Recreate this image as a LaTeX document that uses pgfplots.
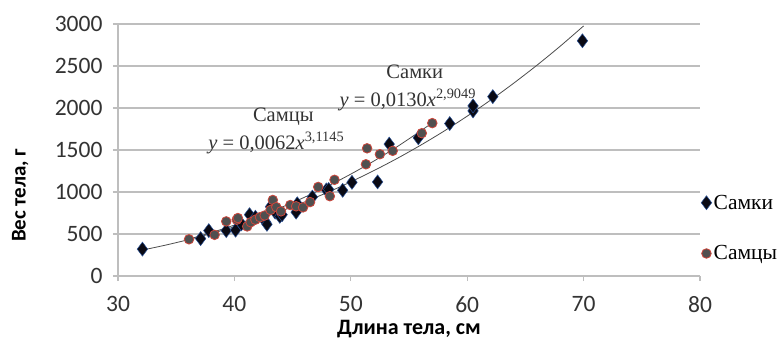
\documentclass[border=0pt]{standalone}
\usepackage{fontspec}
\setmainfont{Liberation Serif}
\newfontfamily\calfont{Carlito}
\usepackage{pgfplots}
\pgfplotsset{compat=1.18}

\definecolor{gridgray}{RGB}{190,190,190}
\definecolor{femfill}{RGB}{10,10,20}
\definecolor{femedge}{RGB}{40,80,150}
\definecolor{malefill}{RGB}{80,80,80}
\definecolor{maleedge}{RGB}{205,70,60}

\begin{document}
\begin{tikzpicture}
\begin{axis}[
 scale only axis, width=582pt, height=252pt,
 xmin=30, xmax=80, ymin=0, ymax=3000,
 xtick={30,40,...,80}, ytick={0,500,...,3000},
 axis lines=left, axis line style={-, gridgray, line width=1.3pt},
 ymajorgrids, grid style={gridgray, line width=1.3pt},
 tick align=outside, major tick length=5pt, tick style={gridgray, line width=1.2pt},
 /pgf/number format/assume math mode=true,
 /pgf/number format/1000 sep={},
 ticklabel style={font=\calfont\fontsize{23.5}{23.5}\selectfont, text=black!80},
 xticklabel style={yshift=-12pt},
 yticklabel style={xshift=-7pt},
 xlabel={Длина тела, см}, ylabel={Вес тела, г},
 xlabel style={font=\calfont\bfseries\fontsize{22}{22}\selectfont,
   at={(rel axis cs:0.5,-0.212)}, anchor=center},
 ylabel style={font=\calfont\bfseries\fontsize{21}{21}\selectfont,
   at={(rel axis cs:-0.168,0.32)}, anchor=center},
 legend style={draw=none, fill=none, at={(1.0,0.19)}, anchor=west,
   font=\fontsize{21.5}{21.5}\selectfont, row sep=31pt, inner xsep=1pt},
 legend cell align=left,
]
\addplot[only marks, mark=diamond*, mark size=7pt, mark options={fill=femfill, draw=femedge, line width=0.5pt}]
coordinates {
(32.1,320) (37.1,445) (37.8,540) (39.3,540) (40.1,545) (40.6,620) (41.3,730)
(41.8,700) (42.7,640) (42.8,615) (43.1,825) (43.5,760) (43.9,710) (44.1,730)
(45.3,760) (45.4,860) (46.7,940) (47.9,1025) (48.1,1030) (49.3,1020) (50.1,1115)
(52.3,1120) (53.3,1570) (55.8,1645) (58.5,1815) (60.5,1965) (60.5,2025)
(62.2,2135) (69.9,2800)
};
\addlegendentry{Самки}
\addplot[only marks, mark=*, mark size=4.8pt, mark options={fill=malefill, draw=maleedge, line width=0.8pt}]
coordinates {
(36.1,437) (38.3,490) (39.3,650) (40.2,670) (40.3,690) (41.1,590) (41.4,640)
(41.8,670) (42.2,700) (42.6,720) (43.1,786) (43.3,905) (43.6,820) (44.0,770)
(44.8,845) (45.3,830) (45.9,817) (46.5,880) (47.2,1060) (48.2,950) (48.6,1145)
(51.3,1330) (51.4,1520) (52.5,1450) (53.6,1490) (56.1,1700) (57.0,1820)
};
\addlegendentry{Самцы}
% trend lines (values of the fitted power curves, typed)
\addplot[forget plot, no markers, smooth, black!70, line width=0.8pt]
coordinates {
(32,306) (34,365) (36,431) (38,505) (40,586) (42,676) (44,773) (46,880)
(48,995) (50,1121) (52,1256) (54,1401) (56,1557) (58,1724) (60,1903)
(62,2093) (64,2296) (66,2510) (68,2737) (70,2977)
};
\addplot[forget plot, no markers, smooth, black!70, line width=0.8pt]
coordinates {
(36,436) (38,516) (40,606) (42,705) (44,815) (46,936) (48,1068) (50,1213)
(52,1370) (54,1541) (56,1727) (57,1824)
};
\node[font=\fontsize{20.5}{20.5}\selectfont, text=black!80] at (axis cs:44.2,1893) {Самцы};
\node[font=\fontsize{20.5}{20.5}\selectfont, text=black!80] at (axis cs:43.6,1583) {\textit{y} = 0,0062\textit{x}\textsuperscript{3,1145}};
\node[font=\fontsize{20.5}{20.5}\selectfont, text=black!80] at (axis cs:55.5,2429) {Самки};
\node[font=\fontsize{20.5}{20.5}\selectfont, text=black!80] at (axis cs:54.9,2095) {\textit{y} = 0,0130\textit{x}\textsuperscript{2,9049}};
\coordinate (ll) at (rel axis cs:0,0);
\coordinate (ur) at (rel axis cs:1,1);
\end{axis}
\pgfresetboundingbox
\path[use as bounding box] ([xshift=-118pt,yshift=-66pt]ll) rectangle ([xshift=79pt,yshift=24pt]ur);
\end{tikzpicture}
\end{document}
